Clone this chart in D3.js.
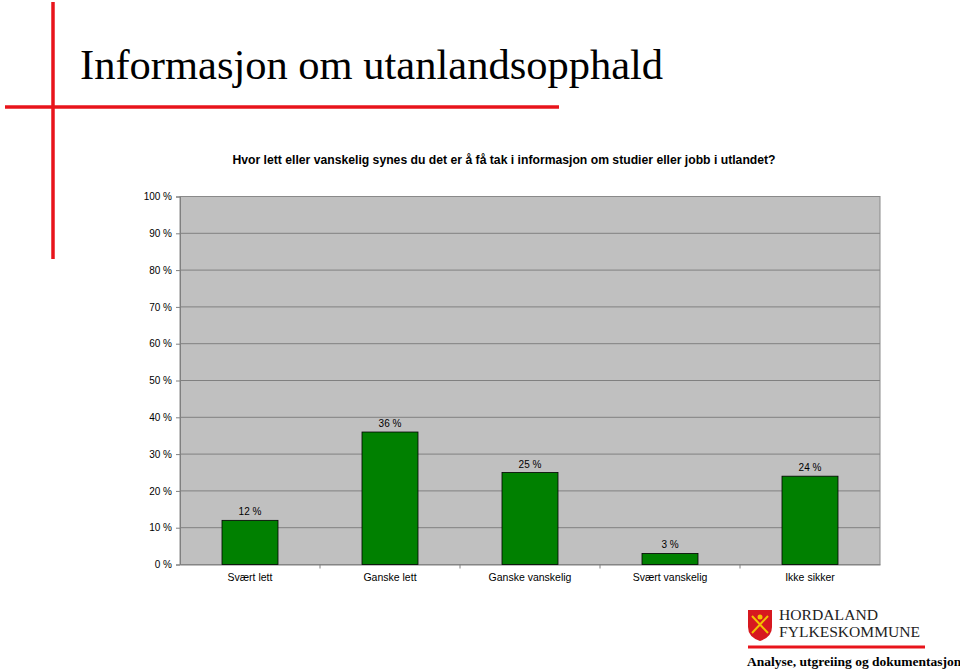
<!DOCTYPE html>
<html>
<head>
<meta charset="utf-8">
<script src="https://cdn.jsdelivr.net/npm/d3@7"></script>
<style>
  body { margin: 0; background: #fff; }
  svg { display: block; }
</style>
</head>
<body>
<div id="chart"></div>
<script>
const categories = ["Svært lett", "Ganske lett", "Ganske vanskelig", "Svært vanskelig", "Ikke sikker"];
const values = [12, 36, 25, 3, 24];
const yTicks = [0, 10, 20, 30, 40, 50, 60, 70, 80, 90, 100];

const title = "Informasjon om utanlandsopphald";
const question = "Hvor lett eller vanskelig synes du det er å få tak i informasjon om studier eller jobb i utlandet?";

const W = 960, H = 669;
const margin = { top: 196.5, right: 80, bottom: 104.5, left: 180 };
const width = W - margin.left - margin.right;
const height = H - margin.top - margin.bottom;

const svg = d3.select("#chart").append("svg")
  .attr("width", W)
  .attr("height", H);

// red cross decoration
svg.append("line").attr("x1", 53).attr("x2", 53).attr("y1", 2).attr("y2", 259)
  .attr("stroke", "#e8141b").attr("stroke-width", 3.5);
svg.append("line").attr("x1", 5).attr("x2", 559).attr("y1", 107).attr("y2", 107)
  .attr("stroke", "#e8141b").attr("stroke-width", 3.5);

svg.append("text")
  .attr("x", 80).attr("y", 79)
  .attr("font-family", "Liberation Serif, Times New Roman, serif")
  .attr("font-size", 42.5)
  .attr("fill", "#000")
  .text(title);

svg.append("text")
  .attr("x", 504).attr("y", 164)
  .attr("text-anchor", "middle")
  .attr("font-family", "Liberation Sans, Arial, sans-serif")
  .attr("font-size", 12.2)
  .attr("font-weight", "bold")
  .text(question);

const g = svg.append("g").attr("transform", `translate(${margin.left},${margin.top})`);

const x = d3.scaleBand().domain(categories).range([0, width]).paddingInner(0.6).paddingOuter(0.3);
const xBand = d3.scaleBand().domain(categories).range([0, width]);
const y = d3.scaleLinear().domain([0, 100]).range([height, 0]);

g.append("rect")
  .attr("width", width).attr("height", height)
  .attr("fill", "#c0c0c0")
  .attr("stroke", "#8a8a8a").attr("stroke-width", 1);

g.selectAll(".grid").data(yTicks.filter(d => d > 0 && d < 100)).join("line")
  .attr("x1", 0).attr("x2", width)
  .attr("y1", d => y(d)).attr("y2", d => y(d))
  .attr("stroke", "#808080").attr("stroke-width", 1);

const yAxis = g.append("g")
  .call(d3.axisLeft(y).tickValues(yTicks).tickSize(4).tickPadding(4).tickFormat(d => d + " %"));
yAxis.select(".domain").attr("stroke", "#808080");
yAxis.selectAll(".tick line").attr("stroke", "#808080");
yAxis.selectAll("text")
  .attr("font-family", "Liberation Sans, Arial, sans-serif")
  .attr("font-size", 10).attr("fill", "#000");

const xAxis = g.append("g").attr("transform", `translate(0,${height})`)
  .call(d3.axisBottom(xBand).tickSize(0).tickPadding(9));
xAxis.select(".domain").attr("stroke", "#808080");
xAxis.selectAll("text")
  .attr("font-family", "Liberation Sans, Arial, sans-serif")
  .attr("font-size", 10.5).attr("fill", "#000");

// category separator ticks
g.selectAll(".sep").data(categories.slice(1)).join("line")
  .attr("x1", d => xBand(d)).attr("x2", d => xBand(d))
  .attr("y1", height).attr("y2", height + 4)
  .attr("stroke", "#808080");

g.selectAll(".bar").data(values).join("rect")
  .attr("x", (d, i) => x(categories[i]))
  .attr("y", d => y(d))
  .attr("width", x.bandwidth())
  .attr("height", d => height - y(d))
  .attr("fill", "#008000")
  .attr("stroke", "#000").attr("stroke-width", 0.8);

g.selectAll(".lbl").data(values).join("text")
  .attr("x", (d, i) => x(categories[i]) + x.bandwidth() / 2)
  .attr("y", d => y(d) - 5)
  .attr("text-anchor", "middle")
  .attr("font-family", "Liberation Sans, Arial, sans-serif")
  .attr("font-size", 10).attr("fill", "#000")
  .text(d => d + " %");

// logo
const logo = svg.append("g");
logo.append("path")
  .attr("d", "M748,610 L772,610 L772,627 Q772,637 760,641 Q748,637 748,627 Z")
  .attr("fill", "#d7181f");
logo.append("path")
  .attr("d", "M752,633 L768,616 M768,633 L752,616")
  .attr("stroke", "#f2c200").attr("stroke-width", 2);
logo.append("circle").attr("cx", 760).attr("cy", 617).attr("r", 2.5).attr("fill", "#f2c200");
logo.append("text").attr("x", 779).attr("y", 620)
  .attr("font-family", "Liberation Serif, Times New Roman, serif")
  .attr("font-size", 14).attr("fill", "#222")
  .attr("textLength", 99).attr("lengthAdjust", "spacingAndGlyphs")
  .text("HORDALAND");
logo.append("text").attr("x", 779).attr("y", 637)
  .attr("font-family", "Liberation Serif, Times New Roman, serif")
  .attr("font-size", 14).attr("fill", "#222")
  .attr("textLength", 141).attr("lengthAdjust", "spacingAndGlyphs")
  .text("FYLKESKOMMUNE");
logo.append("line").attr("x1", 748).attr("x2", 925).attr("y1", 647).attr("y2", 647)
  .attr("stroke", "#e8141b").attr("stroke-width", 3);
logo.append("text").attr("x", 747).attr("y", 666)
  .attr("font-family", "Liberation Serif, Times New Roman, serif")
  .attr("font-size", 13.5).attr("font-weight", "bold").attr("fill", "#000")
  .text("Analyse, utgreiing og dokumentasjon");
</script>
</body>
</html>
